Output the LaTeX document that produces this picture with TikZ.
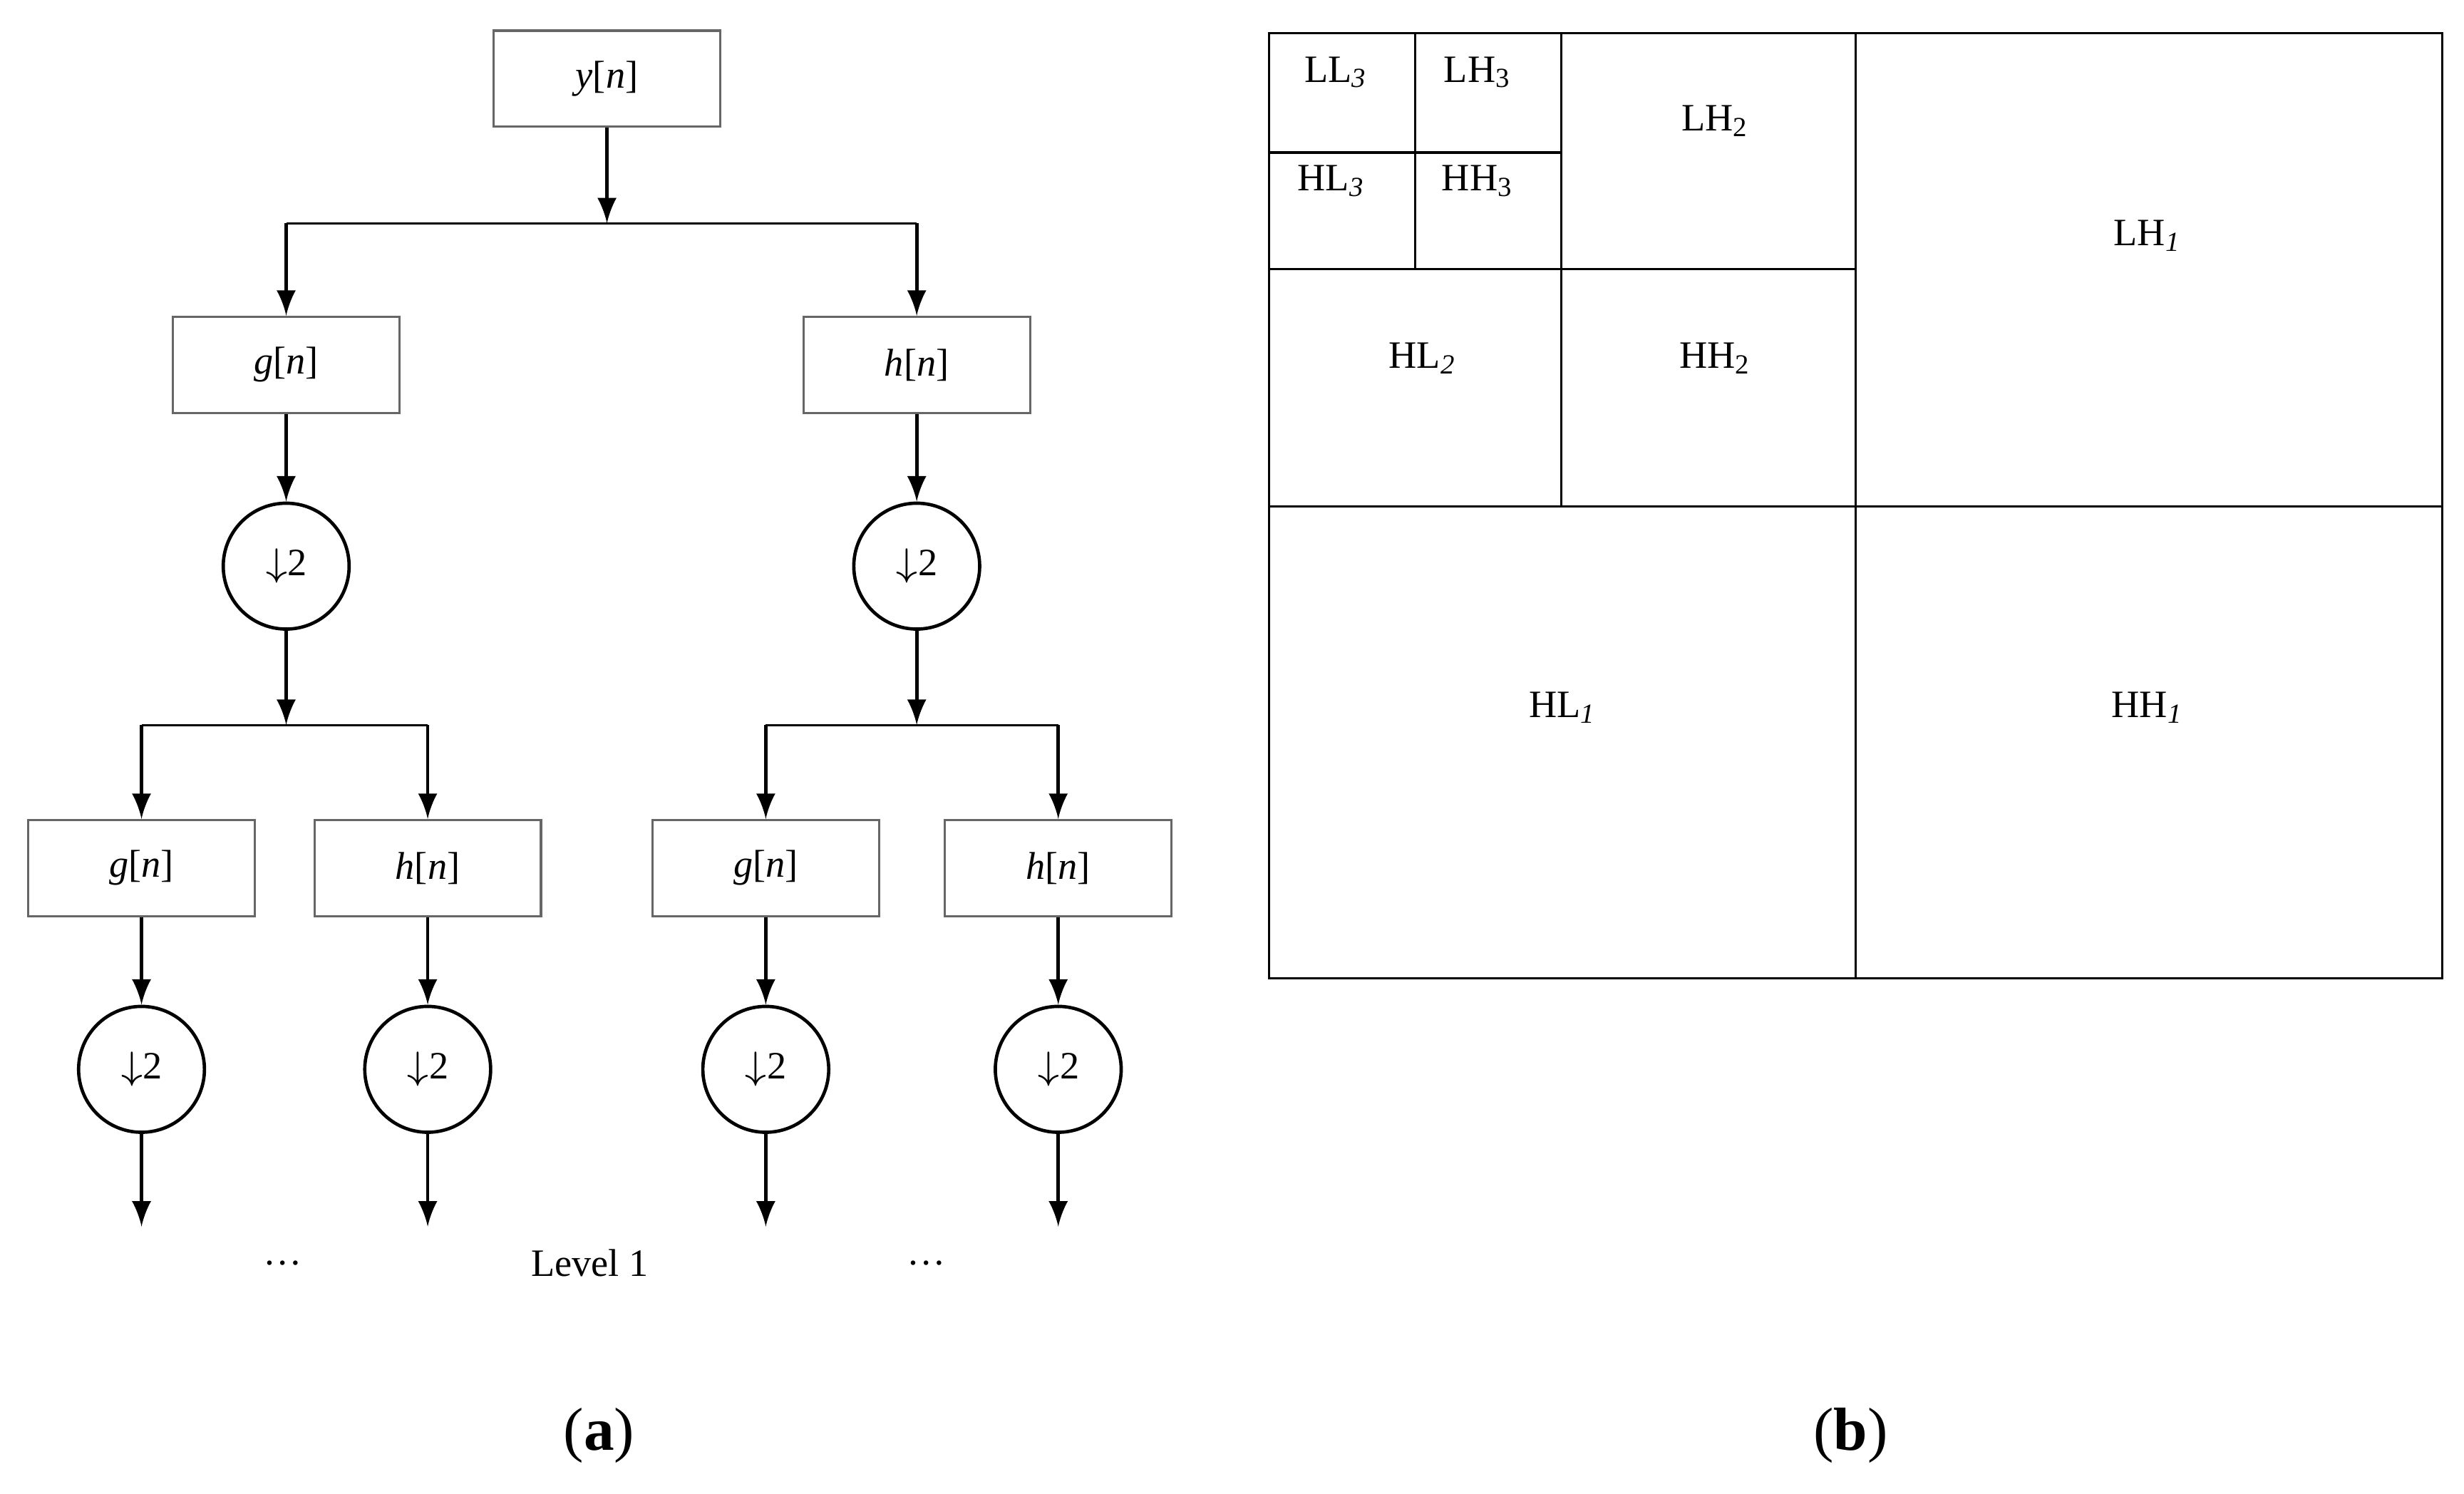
\documentclass[tikz,border=0pt]{standalone}
\usepackage{fontspec}
\setmainfont{Liberation Serif}
\usetikzlibrary{arrows}

\begin{document}
\begin{tikzpicture}[x=0.01cm,y=-0.01cm,
  font=\fontsize{7}{8}\selectfont,
  filt/.style={draw=black!60,line width=0.4pt,minimum width=1.44cm,minimum height=0.61cm,inner sep=0pt},
  down/.style={circle,draw,line width=0.6pt,minimum size=0.8cm,inner sep=0pt},
  conn/.style={-latex,line width=0.6pt},
  sub/.style={line width=0.4pt}]
\useasboundingbox (0,0) rectangle (1567,950);

% (a) filter bank
\node[filt] (y) at (386,50) {\textit{y}[\textit{n}]};
\node[filt] (g1) at (182,232) {\textit{g}[\textit{n}]};
\node[filt] (h1) at (583,232) {\textit{h}[\textit{n}]};
\node[down] (d1) at (182,360) {$\downarrow$2};
\node[down] (d2) at (583,360) {$\downarrow$2};
\coordinate (s0) at (386,142);
\coordinate (s1) at (182,461);
\coordinate (s2) at (583,461);
\coordinate (k1) at (182,142);
\coordinate (k2) at (583,142);

\draw[conn] (y) -- (s0);
\draw[sub] (k1) -- (k2);
\draw[conn] (k1) -- (g1);
\draw[conn] (k2) -- (h1);
\draw[conn] (g1) -- (d1);
\draw[conn] (h1) -- (d2);
\draw[conn] (d1) -- (s1);
\draw[conn] (d2) -- (s2);

\foreach \n/\x/\t/\s in {a/90/g/s1,b/272/h/s1,c/487/g/s2,d/673/h/s2}
{
\node[filt] (f\n) at (\x,552) {\textit{\t}[\textit{n}]};
\node[down] (c\n) at (\x,680) {$\downarrow$2};
\coordinate (k\n) at (\x,461);
\coordinate (e\n) at (\x,780);
\draw[sub] (\s) -- (k\n);
\draw[conn] (k\n) -- (f\n);
\draw[conn] (f\n) -- (c\n);
\draw[conn] (c\n) -- (e\n);
}

\node (dots1) at (180,803) {\dots};
\node (lev) at (375,803) {Level 1};
\node (dots2) at (589,803) {\dots};
\node[font=\fontsize{11}{13}\selectfont] (la) at (381,913) {(\textbf{a})};
\node[font=\fontsize{11}{13}\selectfont] (lb) at (1177,913) {(\textbf{b})};

% (b) subbands
\draw[sub] (807,21) rectangle (1553,622);
\draw[sub] (1180,21) -- (1180,622);
\draw[sub] (807,322) -- (1553,322);
\draw[sub] (993,21) -- (993,322);
\draw[sub] (807,171) -- (1180,171);
\draw[sub] (900,21) -- (900,171);
\draw[sub] (807,97) -- (993,97);

\node (ll3) at (850,46) {LL\textsubscript{\textit{3}}};
\node (lh3) at (940,46) {LH\textsubscript{3}};
\node (hl3) at (847,115) {HL\textsubscript{\textit{3}}};
\node (hh3) at (940,115) {HH\textsubscript{3}};
\node (lh2) at (1091,77) {LH\textsubscript{2}};
\node (hl2) at (905,228) {HL\textsubscript{\textit{2}}};
\node (hh2) at (1091,228) {HH\textsubscript{2}};
\node (lh1) at (1366,150) {LH\textsubscript{\textit{1}}};
\node (hl1) at (994,450) {HL\textsubscript{\textit{1}}};
\node (hh1) at (1366,450) {HH\textsubscript{\textit{1}}};
\end{tikzpicture}
\end{document}
